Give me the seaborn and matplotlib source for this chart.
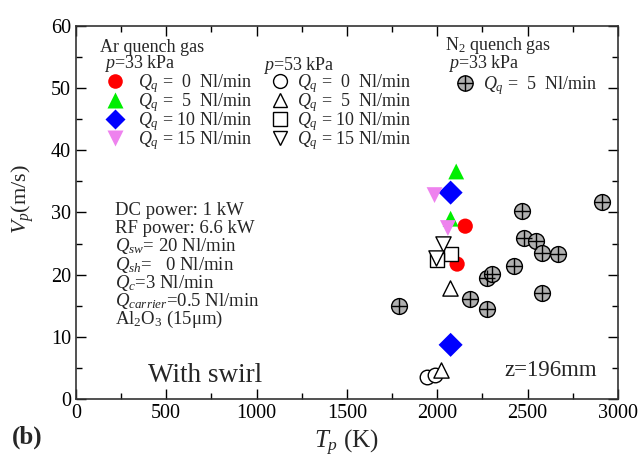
import matplotlib
matplotlib.use("Agg")
import matplotlib.pyplot as plt
from matplotlib.lines import Line2D
from matplotlib.ticker import MultipleLocator
import seaborn as sns
import pandas as pd

# Ar quench gas, p = 33 kPa (filled markers)
ar33_q0_T = [2155, 2110]
ar33_q0_V = [27.8, 21.7]
ar33_q5_T = [2105, 2074]
ar33_q5_V = [36.6, 29.0]
ar33_q10_T = [2074, 2074]
ar33_q10_V = [33.2, 8.7]
ar33_q15_T = [1985, 2059]
ar33_q15_V = [32.8, 27.5]

# Ar quench gas, p = 53 kPa (open markers)
ar53_q0_T = [1945, 1985]
ar53_q0_V = [3.6, 3.8]
ar53_q5_T = [2069, 2019]
ar53_q5_V = [17.8, 4.7]
ar53_q10_T = [2078, 2000]
ar53_q10_V = [23.4, 22.4]
ar53_q15_T = [2031, 1994]
ar53_q15_V = [24.9, 22.6]

# N2 quench gas, p = 33 kPa, Qq = 5 Nl/min
n2_T = [1790, 2180, 2275, 2275, 2305, 2425, 2470, 2480, 2545, 2578, 2670, 2578, 2910]
n2_V = [15.0, 16.0, 14.5, 19.4, 20.1, 21.4, 30.3, 25.9, 25.4, 23.5, 23.4, 17.0, 31.7]

x_ticks = [0, 500, 1000, 1500, 2000, 2500, 3000]
y_ticks = [0, 10, 20, 30, 40, 50, 60]

sns.set_theme(style="ticks")
plt.rcParams["font.family"] = ["Liberation Serif", "DejaVu Serif"]
plt.rcParams["mathtext.fontset"] = "custom"
plt.rcParams["mathtext.rm"] = "Liberation Serif"
plt.rcParams["mathtext.it"] = "Liberation Serif:italic"
plt.rcParams["mathtext.bf"] = "Liberation Serif:bold"

fig = plt.figure(figsize=(6.43, 4.66), dpi=100)
ax = fig.add_axes([0.118, 0.144, 0.843, 0.800])

filled = [
    (ar33_q0_T, ar33_q0_V, "o", "#ff0000", 120),
    (ar33_q5_T, ar33_q5_V, "^", "#00ee00", 130),
    (ar33_q10_T, ar33_q10_V, "D", "#0000ff", 150),
    (ar33_q15_T, ar33_q15_V, "v", "#ee82ee", 130),
]
for T, V, m, c, s in filled:
    sns.scatterplot(x=T, y=V, marker=m, color=c, s=s, edgecolor="none",
                    linewidth=0, ax=ax, zorder=3)

opened = [
    (ar53_q0_T, ar53_q0_V, "o", 110),
    (ar53_q5_T, ar53_q5_V, "^", 120),
    (ar53_q10_T, ar53_q10_V, "s", 100),
    (ar53_q15_T, ar53_q15_V, "v", 120),
]
for T, V, m, s in opened:
    sns.scatterplot(x=T, y=V, marker=m, facecolor="white", edgecolor="black",
                    s=s, linewidth=1.0, ax=ax, zorder=4)

n2 = pd.DataFrame({"T": n2_T, "V": n2_V})
sns.scatterplot(data=n2, x="T", y="V", marker="o", facecolor="#b0b0b0",
                edgecolor="black", s=130, linewidth=1.0, ax=ax, zorder=3)
sns.scatterplot(data=n2, x="T", y="V", marker="+", color="black",
                s=130, linewidth=1.0, ax=ax, zorder=4)

ax.set_xlim(0, 3000)
ax.set_ylim(0, 60)
ax.set_xticks(x_ticks)
ax.set_yticks(y_ticks)
ax.xaxis.set_minor_locator(MultipleLocator(250))
ax.yaxis.set_minor_locator(MultipleLocator(5))
ax.tick_params(which="both", direction="in", top=True, right=True,
               labelsize=14.5, colors="black")
ax.tick_params(which="major", length=7, width=1)
ax.tick_params(which="minor", length=4, width=1)
for sp in ax.spines.values():
    sp.set_color("#333333")
    sp.set_linewidth(1.2)

ax.set_xlabel("$T_p$ (K)", fontsize=18, labelpad=4)
ax.set_ylabel("$V_p$(m/s)", fontsize=16, labelpad=2)
ax.yaxis.set_label_coords(-0.073, 0.535)

fs = 13
labels_q = ["$Q_q$ =  0  Nl/min", "$Q_q$ =  5  Nl/min",
            "$Q_q$ = 10 Nl/min", "$Q_q$ = 15 Nl/min"]

h33 = [
    Line2D([], [], ls="none", marker="o", mfc="#ff0000", mec="none", ms=10.5),
    Line2D([], [], ls="none", marker="^", mfc="#00ee00", mec="none", ms=11),
    Line2D([], [], ls="none", marker="D", mfc="#0000ff", mec="none", ms=10.5),
    Line2D([], [], ls="none", marker="v", mfc="#ee82ee", mec="none", ms=11),
]
h53 = [
    Line2D([], [], ls="none", marker=m, mfc="white", mec="black", mew=1.0, ms=ms)
    for m, ms in [("o", 10), ("^", 10.5), ("s", 9.5), ("v", 10.5)]
]
hn2 = [(Line2D([], [], ls="none", marker="o", mfc="#b0b0b0", mec="black",
               mew=1.0, ms=11),
        Line2D([], [], ls="none", marker="+", mec="black", mew=1.0, ms=11))]

common = dict(frameon=False, fontsize=fs, handlelength=1.0,
              labelspacing=-0.22, borderpad=0, borderaxespad=0)
fig.legend(h33, labels_q, loc="upper left", handletextpad=0.78,
           bbox_to_anchor=(106 / 643, 1 - 72 / 466), **common)
fig.legend(h53, labels_q, loc="upper left", handletextpad=0.45,
           bbox_to_anchor=(271 / 643, 1 - 72 / 466), **common)
fig.legend(hn2, ["$Q_q$ =  5  Nl/min"], loc="upper left", handletextpad=0.5,
           bbox_to_anchor=(456 / 643, 1 - 74 / 466), **common)

fig.text(100 / 643, 1 - 47 / 466, "Ar quench gas", fontsize=fs, va="center")
fig.text(104 / 643, 1 - 63 / 466, "$p$=33 kPa", fontsize=fs, va="center")
fig.text(263 / 643, 1 - 65 / 466, "$p$=53 kPa", fontsize=fs, va="center")
fig.text(445 / 643, 1 - 45 / 466, "N$_2$ quench gas", fontsize=fs, va="center")
fig.text(448 / 643, 1 - 63 / 466, "$p$=33 kPa", fontsize=fs, va="center")

info = ["DC power: 1 kW",
        "RF power: 6.6 kW",
        "$Q_{sw}$= 20 Nl/min",
        "$Q_{sh}$=   0 Nl/min",
        "$Q_c$=3 Nl/min",
        "$Q_{carrier}$=0.5 Nl/min",
        "Al$_2$O$_3$ (15μm)"]
for i, line in enumerate(info):
    fig.text(115 / 643, 1 - (215 + 18.2 * i) / 466, line, fontsize=13.5,
             va="baseline")

ax.text(0.133, 0.063, "With swirl", transform=ax.transAxes, fontsize=19.5, va="center")
ax.text(0.79, 0.075, "z=196mm", transform=ax.transAxes, fontsize=16.5, va="center")
fig.text(12 / 643, 1 - 437 / 466, "(b)", fontsize=18, fontweight="bold", va="center")

fig.savefig("out.png", dpi=100)
